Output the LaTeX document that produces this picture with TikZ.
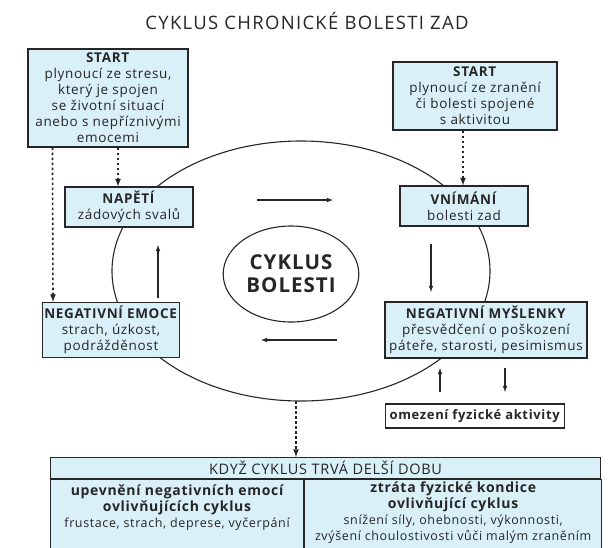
\documentclass[tikz,border=0pt]{standalone}
\usepackage{fontspec}
\setmainfont{Open Sans}
\newfontfamily\boxfont{Open Sans}[LetterSpace=5]
\newfontfamily\titlefont{Open Sans}[LetterSpace=7]
\newcommand{\celltitle}{\fontsize{14}{16.5}\selectfont\bfseries}
\usetikzlibrary{arrows, shapes.geometric, calc}
\definecolor{boxblue}{RGB}{218,240,248}
\definecolor{ink}{RGB}{38,38,38}
\tikzset{
  box/.style={draw=ink, line width=1.1pt, fill=boxblue, align=center, inner sep=1pt, text=ink,
    font=\boxfont\fontsize{13.5}{16}\selectfont},
  cell/.style={draw=ink, line width=1.1pt, fill=boxblue, anchor=north west, inner sep=0pt},
  celltext/.style={align=center, text=ink, anchor=north, inner sep=0pt,
    font=\boxfont\fontsize{12.5}{16}\selectfont},
  flow/.style={draw=ink, line width=1.1pt, -latex},
  dotflow/.style={draw=ink, line width=1.6pt, dash pattern=on 2.6pt off 2.4pt, -latex},
}
\begin{document}
\begin{tikzpicture}[x=1pt, y=-1pt]
  \useasboundingbox (0,0) rectangle (610,547);
  % nadpis
  \node[text=ink, font=\titlefont\fontsize{18.5}{20}\selectfont] (title) at (307,21) {CYKLUS CHRONICKÉ BOLESTI ZAD};
  % velky kruh
  \draw[ink, line width=1.1pt] (301,271) ellipse [x radius=189, y radius=130];
  \node[draw=ink, line width=1.1pt, ellipse, minimum width=127, minimum height=96, align=center,
    text=ink, font=\boxfont\fontsize{20.5}{23}\selectfont\bfseries] (cyklus) at (291,274) {CYKLUS\\BOLESTI};
  % boxy
  \node[box, minimum width=160, minimum height=98] (startL) at (108,98)
    {\textbf{START}\\plynoucí ze stresu,\\který je spojen\\se životní situací\\anebo s nepříznivými\\emocemi};
  \node[box, minimum width=164, minimum height=68] (startR) at (475,96)
    {\textbf{START}\\plynoucí ze zranění\\či bolesti spojené\\s aktivitou};
  \node[box, minimum width=128, minimum height=40] (napeti) at (129,207)
    {\textbf{NAPĚTÍ}\\zádových svalů};
  \node[box, minimum width=128, minimum height=40] (vnimani) at (464,206)
    {\textbf{VNÍMÁNÍ}\\bolesti zad};
  \node[box, minimum width=137, minimum height=55] (emoce) at (111,330)
    {\textbf{NEGATIVNÍ EMOCE}\\strach, úzkost,\\podrážděnost};
  \node[box, minimum width=202, minimum height=56] (mysl) at (486,330)
    {\textbf{NEGATIVNÍ MYŠLENKY}\\přesvědčení o poškození\\páteře, starosti, pesimismus};
  \node[box, fill=white, inner xsep=4pt, minimum width=178, minimum height=24,
    font=\boxfont\fontsize{13}{16}\selectfont] (omezeni) at (475,416)
    {\textbf{omezení fyzické aktivity}};
  % tabulka dole
  \node[cell, minimum width=550, minimum height=21] (kdyz) at (50,457) {};
  \node[text=ink, font=\boxfont\fontsize{14.5}{16}\selectfont] at (kdyz.center) {KDYŽ CYKLUS TRVÁ DELŠÍ DOBU};
  \node[cell, minimum width=253, minimum height=85] (upev) at (kdyz.south west) {};
  \node[cell, minimum width=297, minimum height=85] (ztrata) at (upev.north east) {};
  \node[celltext] at ($(upev.north)+(0,5)$)
    {{\celltitle upevnění negativních emocí}\\{\celltitle ovlivňujících cyklus}\\frustace, strach, deprese, vyčerpání};
  \node[celltext] at ($(ztrata.north)+(0,2.5)$)
    {{\celltitle ztráta fyzické kondice}\\{\celltitle ovlivňující cyklus}\\snížení síly, ohebnosti, výkonnosti,\\zvýšení choulostivosti vůči malým zraněním};
  % sipky cyklu
  \draw[flow] (257,200) -- (333,200);
  \draw[flow] (431,244) -- (431,292);
  \draw[flow] (337,340) -- (261,340);
  \draw[flow] (158,298) -- (158,245);
  \draw[flow] (440,392) -- (440,368);
  \draw[flow] (505,368) -- (505,392);
  % teckovane sipky
  \draw[dotflow] ($(startL.south)+(10,0)$) -- ($(napeti.north)+(-11,0)$);
  \draw[dotflow] ($(startL.south west)+(25,0)$) -- (emoce.north -| 53,0);
  \draw[dotflow] (startR.south -| 463,0) -- (vnimani.north -| 463,0);
  \draw[dotflow] (296,401) -- (kdyz.north -| 296,0);
\end{tikzpicture}
\end{document}
